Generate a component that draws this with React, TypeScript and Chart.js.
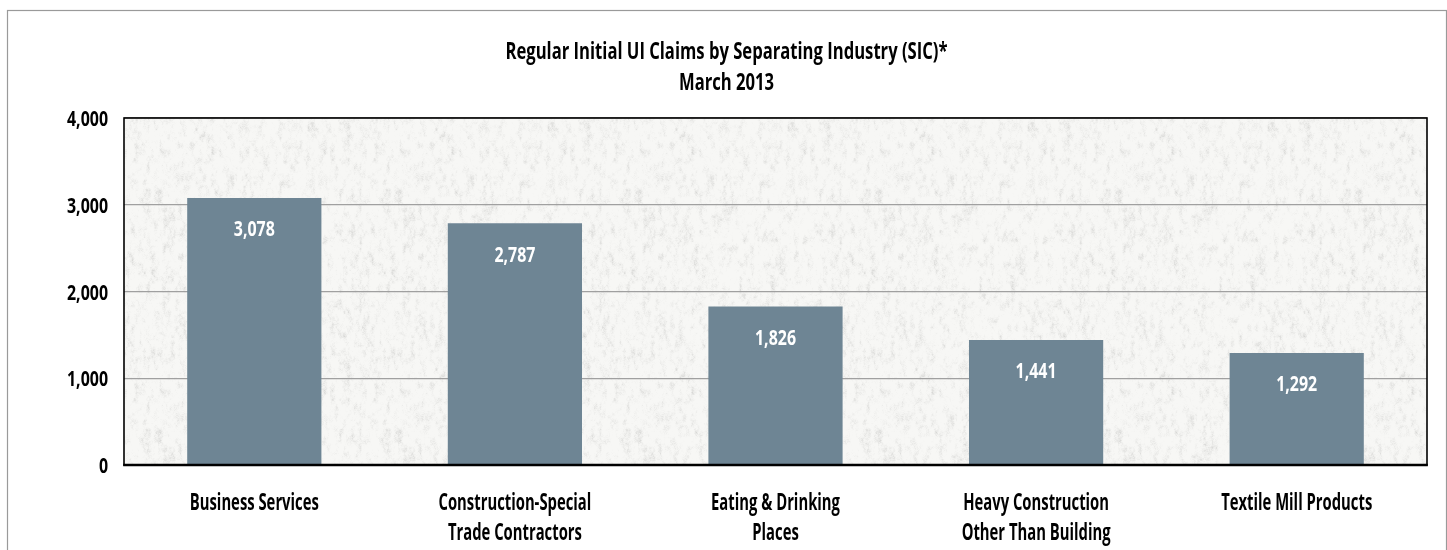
import React, { useEffect, useRef } from "react";
import { Chart, registerables } from "chart.js";

Chart.register(...registerables);

const titleLines = ["Regular Initial UI Claims by Separating Industry (SIC)*", "March 2013"];
const categories: string[][] = [
  ["Business Services"],
  ["Construction-Special", "Trade Contractors"],
  ["Eating & Drinking", "Places"],
  ["Heavy Construction", "Other Than Building"],
  ["Textile Mill Products"],
];
const claims = [3078, 2787, 1826, 1441, 1292];
const yTickValues = [0, 1000, 2000, 3000, 4000];
const yTickLabels = ["0", "1,000", "2,000", "3,000", "4,000"];

const FAMILY = "'Open Sans', Lato, 'DejaVu Sans', sans-serif";
const TITLE_FONT = `bold 22.5px ${FAMILY}`;
const CAT_FONT = `bold 22.5px ${FAMILY}`;
const TICK_FONT = `bold 21px ${FAMILY}`;
const BAR_COLOR = "#6E8594";

function hash(x: number, y: number): number {
  let h = Math.imul(x, 374761393) + Math.imul(y, 668265263);
  h = Math.imul(h ^ (h >>> 13), 1274126177);
  h = h ^ (h >>> 16);
  return (h >>> 0) / 4294967295;
}

function valueNoise(x: number, y: number, px: number, py: number): number {
  const x0 = Math.floor(x), y0 = Math.floor(y);
  const fx = x - x0, fy = y - y0;
  const sx = fx * fx * (3 - 2 * fx), sy = fy * fy * (3 - 2 * fy);
  const g = (i: number, j: number) => hash(((i % px) + px) % px, ((j % py) + py) % py);
  const a = g(x0, y0), b = g(x0 + 1, y0), c = g(x0, y0 + 1), d = g(x0 + 1, y0 + 1);
  return a + (b - a) * sx + (c - a) * sy + (a - b - c + d) * sx * sy;
}

function makePattern(ctx: CanvasRenderingContext2D): CanvasPattern | string {
  const size = 240;
  const c = document.createElement("canvas");
  c.width = size;
  c.height = size;
  const cx = c.getContext("2d");
  if (!cx) return "#EBEBE9";
  const img = cx.createImageData(size, size);
  for (let y = 0; y < size; y++) {
    for (let x = 0; x < size; x++) {
      const n1 = valueNoise(x / 4, y / 8, size / 4, size / 8);
      const n2 = valueNoise(x / 2, y / 3, size / 2, size / 3);
      const n3 = hash(x + 1000, y + 2000);
      const n = 0.45 * n1 + 0.35 * n2 + 0.2 * n3;
      const t = Math.max(0, n - 0.38) / 0.62;
      const v = Math.round(247 - 36 * t * t);
      const i = (y * size + x) * 4;
      img.data[i] = v;
      img.data[i + 1] = v;
      img.data[i + 2] = v - 2;
      img.data[i + 3] = 255;
    }
  }
  cx.putImageData(img, 0, 0);
  return ctx.createPattern(c, "repeat") || "#EBEBE9";
}

function drawText(
  ctx: CanvasRenderingContext2D,
  text: string,
  x: number,
  y: number,
  font: string,
  color: string,
  align: CanvasTextAlign,
  sx: number
) {
  ctx.save();
  ctx.font = font;
  ctx.fillStyle = color;
  ctx.textAlign = align;
  ctx.textBaseline = "alphabetic";
  ctx.translate(x, y);
  ctx.scale(sx, 1);
  ctx.fillText(text, 0, 0);
  ctx.restore();
}

function squeezeFor(ctx: CanvasRenderingContext2D, font: string, text: string, width: number): number {
  ctx.font = font;
  return width / ctx.measureText(text).width;
}

export default function App() {
  const ref = useRef<HTMLCanvasElement | null>(null);

  useEffect(() => {
    const canvas = ref.current;
    if (!canvas) return;
    const ctx0 = canvas.getContext("2d");
    if (!ctx0) return;
    const pattern = makePattern(ctx0);
    const sqTitle = squeezeFor(ctx0, TITLE_FONT, titleLines[0], 442);
    const sqCat = squeezeFor(ctx0, CAT_FONT, categories[0][0], 129);
    const sqTick = squeezeFor(ctx0, TICK_FONT, yTickLabels[4], 41);

    const deco = {
      id: "deco",
      beforeDraw(chart: any) {
        const { ctx, chartArea: a, width, height } = chart;
        ctx.save();
        ctx.fillStyle = "#FFFFFF";
        ctx.fillRect(0, 0, width, height);
        ctx.fillStyle = pattern;
        ctx.fillRect(a.left, a.top, a.right - a.left, a.bottom - a.top);
        ctx.restore();
      },
      afterDraw(chart: any) {
        const { ctx, chartArea: a } = chart;
        const xs = chart.scales.x;
        const ys = chart.scales.y;
        ctx.save();
        ctx.strokeStyle = "#9A9A9A";
        ctx.lineWidth = 1.2;
        ctx.strokeRect(7.5, 10.5, 1439, 600);
        ctx.strokeStyle = "#000000";
        ctx.lineWidth = 1.6;
        ctx.strokeRect(a.left, a.top, a.right - a.left, a.bottom - a.top);
        ctx.lineWidth = 2.6;
        ctx.beginPath();
        ctx.moveTo(a.left - 0.8, a.bottom);
        ctx.lineTo(a.right + 0.8, a.bottom);
        ctx.stroke();
        ctx.restore();

        const tx = 726.5;
        drawText(ctx, titleLines[0], tx, 58.5, TITLE_FONT, "#000", "center", sqTitle);
        drawText(ctx, titleLines[1], tx, 90, TITLE_FONT, "#000", "center", sqTitle);

        yTickValues.forEach((v, i) => {
          drawText(ctx, yTickLabels[i], a.left - 16, ys.getPixelForValue(v) + 8, TICK_FONT, "#000", "right", sqTick);
        });

        categories.forEach((lines, i) => {
          const cx = xs.getPixelForValue(i);
          lines.forEach((ln, j) => {
            drawText(ctx, ln, cx, a.bottom + 45 + j * 30, CAT_FONT, "#000", "center", sqCat);
          });
        });

        const meta = chart.getDatasetMeta(0);
        meta.data.forEach((bar: any, i: number) => {
          const txt = claims[i].toLocaleString("en-US");
          drawText(ctx, txt, bar.x, bar.y + 38.5, TICK_FONT, "#FFFFFF", "center", sqTick);
        });
      },
    };

    const chart = new Chart(canvas, {
      type: "bar",
      data: {
        labels: categories,
        datasets: [
          {
            data: claims,
            backgroundColor: BAR_COLOR,
            borderWidth: 0,
            barPercentage: 0.515,
            categoryPercentage: 1,
          },
        ],
      },
      options: {
        responsive: false,
        animation: false,
        layout: { padding: { left: 124, top: 118, right: 20, bottom: 85 } },
        plugins: {
          legend: { display: false },
          title: { display: false },
          tooltip: { enabled: false },
        },
        scales: {
          x: {
            display: false,
            grid: { display: false },
          },
          y: {
            display: true,
            min: 0,
            max: 4000,
            ticks: { display: false, stepSize: 1000 },
            grid: { color: "#A0A0A0", lineWidth: 1.3, drawTicks: false },
            border: { display: false },
          },
        },
      },
      plugins: [deco],
    });

    return () => {
      chart.destroy();
    };
  }, []);

  return (
    <div style={{ position: "absolute", left: 0, top: 0, width: 1447, height: 550, overflow: "hidden", background: "#fff" }}>
      <canvas ref={ref} width={1447} height={550} style={{ display: "block" }} />
    </div>
  );
}
